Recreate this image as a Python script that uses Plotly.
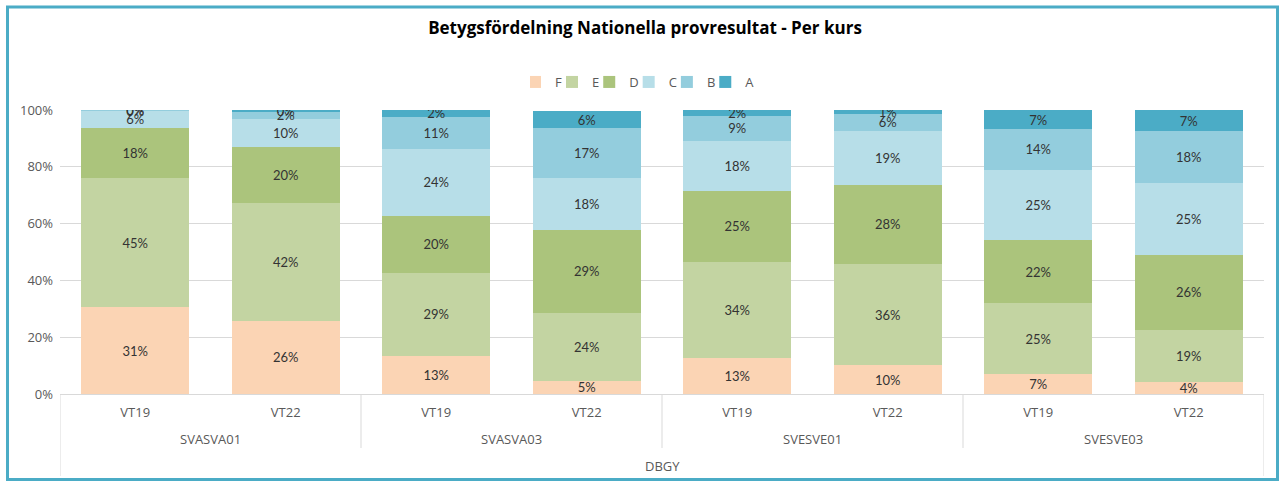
import plotly.graph_objects as go

periods = ["VT19", "VT22", "VT19", "VT22", "VT19", "VT22", "VT19", "VT22"]
courses = ["SVASVA01", "SVASVA03", "SVESVE01", "SVESVE03"]
school = "DBGY"
grades = ["F", "E", "D", "C", "B", "A"]
y_ticks = [0, 20, 40, 60, 80, 100]
y_tick_labels = ["0%", "20%", "40%", "60%", "80%", "100%"]

F = [30.6, 25.8, 13.4, 4.6, 12.6, 10.1, 7.0, 4.1]
E = [45.4, 41.6, 29.2, 24.0, 34.0, 35.7, 25.0, 18.6]
D = [17.6, 19.7, 20.2, 29.3, 25.0, 27.8, 22.2, 26.4]
C = [6.2, 9.9, 23.6, 18.2, 17.6, 19.1, 24.8, 25.3]
B = [0.2, 2.4, 11.3, 17.4, 8.7, 5.9, 14.2, 18.2]
A = [0.1, 0.4, 2.3, 6.3, 2.1, 1.4, 6.8, 7.4]

series = [F, E, D, C, B, A]
colors = ["#FBD4B4", "#C3D4A2", "#ABC47C", "#B7DEE8", "#93CDDD", "#4BACC6"]

# plot-area geometry in pixels
W, H = 1281, 482
L, R, T, Bm = 60, 17, 110, 88
pw, ph = W - L - R, H - T - Bm

def px_x(px):
    return (px - L) / pw

def px_y(py):
    return (H - Bm - py) / ph

xs = list(range(len(periods)))
fig = go.Figure()
for name, vals, col in zip(grades, series, colors):
    fig.add_trace(go.Bar(
        x=xs, y=vals, name=name,
        marker=dict(color=col, line=dict(width=0)),
        text=[f"{v:.0f}%" for v in vals],
        textposition="inside", insidetextanchor="middle",
        constraintext="none", textangle=0,
        textfont=dict(family="Lato", size=13, color="#333333"),
    ))

axis_font = dict(family="Open Sans", size=13, color="#595959")

fig.update_layout(
    barmode="stack", bargap=0.285,
    width=W, height=H,
    margin=dict(l=L, r=R, t=T, b=Bm),
    paper_bgcolor="white", plot_bgcolor="white",
    title=dict(text="<b>Betygsfördelning Nationella provresultat - Per kurs</b>",
               x=px_x(645), xref="paper", xanchor="center",
               y=1 - 28 / H, yref="container", yanchor="middle",
               font=dict(family="Open Sans", size=17, color="#000000")),
    legend=dict(orientation="h", x=px_x(645), xanchor="center",
                y=px_y(82), yanchor="middle",
                font=dict(family="Open Sans", size=13, color="#595959"),
                itemwidth=30, indentation=-15, traceorder="normal",
                bgcolor="rgba(0,0,0,0)"),
    showlegend=True,
    xaxis=dict(range=[-0.5, 7.5], tickvals=xs, ticktext=periods,
               showgrid=False, zeroline=False, showline=True,
               linecolor="#D9D9D9", linewidth=1, ticks="",
               tickfont=axis_font, ticklabelstandoff=6, fixedrange=True),
    yaxis=dict(range=[0, 100], tickvals=y_ticks, ticktext=y_tick_labels,
               showgrid=True, gridcolor="#D9D9D9",
               zeroline=False, showline=False, ticks="",
               tickfont=axis_font, ticklabelstandoff=6, fixedrange=True),
)

# category table lines
for i, xv in enumerate([-0.5, 1.5, 3.5, 5.5, 7.5]):
    outer = i in (0, 4)
    fig.add_shape(type="line", xref="x", yref="paper",
                  x0=xv, x1=xv, y0=0, y1=px_y(476 if outer else 448),
                  line=dict(color="#D9D9D9", width=1))

# course labels
for k, cname in enumerate(courses):
    fig.add_annotation(x=2 * k + 0.5, xref="x", y=px_y(439), yref="paper",
                       text=cname, showarrow=False, yanchor="middle",
                       font=axis_font)

fig.add_annotation(x=3.5, xref="x", y=px_y(466), yref="paper",
                   text=school, showarrow=False, yanchor="middle",
                   font=axis_font)

# chart border
fig.add_shape(type="rect", xref="paper", yref="paper",
              x0=px_x(7.5), x1=px_x(1277.5), y0=px_y(479.5), y1=px_y(7),
              line=dict(color="#4BACC6", width=3), layer="above")

fig.write_html("out.html",
               config={"displayModeBar": False},
               post_script="document.body.style.margin='0px';document.body.style.overflow='hidden';")
